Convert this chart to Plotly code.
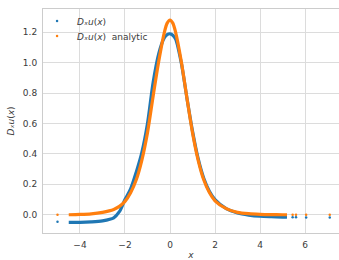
import plotly.graph_objects as go

# dense numeric derivative
x_num = [-4.5, -4.0, -3.5, -3.0, -2.5, -2.25, -2.0, -1.75, -1.5, -1.25, -1.0, -0.75,
         -0.5, -0.25, -0.125, 0.0, 0.125, 0.25, 0.5, 0.75, 1.0, 1.25, 1.5, 1.75, 2.0,
         2.5, 3.0, 3.5, 4.0, 4.5, 5.0, 5.2]
y_num = [-0.05, -0.05, -0.047, -0.04, -0.02, 0.02, 0.10, 0.17, 0.28, 0.41, 0.60, 0.87,
         1.06, 1.165, 1.185, 1.19, 1.18, 1.155, 1.00, 0.77, 0.55, 0.37, 0.24, 0.155, 0.10,
         0.04, 0.012, -0.002, -0.01, -0.013, -0.015, -0.016]
# dense analytic derivative
x_ana = [-4.5, -4.0, -3.5, -3.0, -2.5, -2.25, -2.0, -1.75, -1.5, -1.25, -1.0, -0.75,
         -0.5, -0.25, -0.125, 0.0, 0.125, 0.25, 0.5, 0.75, 1.0, 1.25, 1.5, 1.75, 2.0,
         2.5, 3.0, 3.5, 4.0, 4.5, 5.0, 5.2]
y_ana = [0.0, 0.002, 0.006, 0.016, 0.035, 0.055, 0.088, 0.145, 0.23, 0.36, 0.54, 0.78,
         1.01, 1.20, 1.26, 1.28, 1.26, 1.20, 1.01, 0.77, 0.54, 0.36, 0.23, 0.146, 0.092,
         0.04, 0.016, 0.007, 0.003, 0.001, 0.0, 0.0]
# sparse isolated samples
x_sparse = [-5.0, 5.45, 5.6, 6.05, 7.1]
y_sparse_num = [-0.046, -0.017, -0.017, -0.018, -0.018]
y_sparse_ana = [0.0, 0.0, 0.0, 0.0, 0.0]

x_ticks = [-4, -2, 0, 2, 4, 6]
y_ticks = [0.0, 0.2, 0.4, 0.6, 0.8, 1.0, 1.2]

blue = "#1f77b4"
orange = "#ff7f0e"
lbl = "<i>D\u2093u</i>(<i>x</i>)"

fig = go.Figure()
fig.add_trace(go.Scatter(x=x_num, y=y_num, mode="lines",
                         line=dict(color=blue, width=3.2, shape="spline", smoothing=0.8),
                         showlegend=False))
fig.add_trace(go.Scatter(x=x_sparse, y=y_sparse_num, mode="markers",
                         marker=dict(color=blue, size=2.5), name=lbl, legend="legend"))
fig.add_trace(go.Scatter(x=x_ana, y=y_ana, mode="lines",
                         line=dict(color=orange, width=3.2, shape="spline", smoothing=0.8),
                         showlegend=False))
fig.add_trace(go.Scatter(x=x_sparse, y=y_sparse_ana, mode="markers",
                         marker=dict(color=orange, size=2.5), name=lbl + "  analytic",
                         legend="legend2"))

leg = dict(xanchor="left", yanchor="middle", bgcolor="rgba(255,255,255,0)",
           font=dict(size=9, color="#3a3a3a"), itemwidth=30)

fig.update_layout(
    width=339, height=260,
    margin=dict(l=43, r=0, t=9, b=27),
    paper_bgcolor="white", plot_bgcolor="white",
    font=dict(family="DejaVu Sans", size=9, color="#3a3a3a"),
    legend=dict(leg, x=-0.02, y=(233 - 21) / 224),
    legend2=dict(leg, x=-0.02, y=(233 - 36) / 224),
    xaxis=dict(range=[-5.644, 7.511], tickvals=x_ticks, showgrid=True, gridcolor="#dcdcdc",
               gridwidth=1, zeroline=False, showline=True, linecolor="#cccccc", mirror=True,
               ticks="", ticklabelstandoff=3, automargin=False,
               title=dict(text="<i>x</i>", standoff=2, font=dict(size=9))),
    yaxis=dict(range=[-0.120, 1.353], tickvals=y_ticks, tickformat=".1f", showgrid=True,
               gridcolor="#dcdcdc", gridwidth=1, zeroline=False, showline=True,
               linecolor="#cccccc", ticks="", ticklabelstandoff=3, automargin=False,
               title=dict(text=lbl, standoff=6, font=dict(size=9))),
)

fig.write_html("out.html", config={"displayModeBar": False},
               post_script="document.body.style.margin='0';document.body.style.overflow='hidden';")
